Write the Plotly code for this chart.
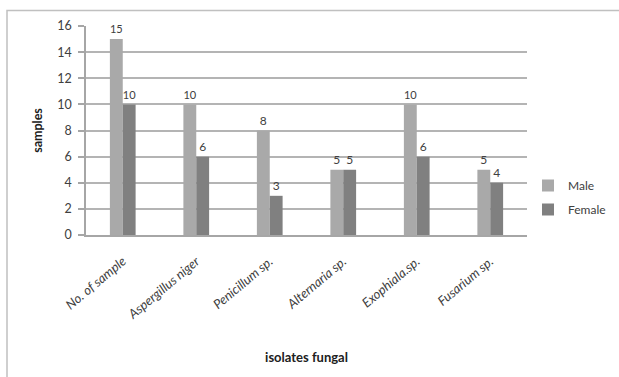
import plotly.graph_objects as go

categories = ["No. of sample", "Aspergillus niger", "Penicillum sp.", "Alternaria sp.", "Exophiala.sp.", "Fusarium sp."]
male = [15, 10, 8, 5, 10, 5]
female = [10, 6, 3, 5, 6, 4]
y_ticks = [0, 2, 4, 6, 8, 10, 12, 14, 16]

FONT = "Lato, Open Sans, sans-serif"
LBL = dict(size=12, color="#404040", family=FONT)

fig = go.Figure()
fig.add_trace(go.Bar(
    x=categories, y=male, name="Male", legendgroup="m",
    marker=dict(color="#a9a9a9", line=dict(width=0)),
    text=[str(v) for v in male], textposition="outside",
    textfont=LBL, outsidetextfont=LBL, cliponaxis=False,
))
fig.add_trace(go.Bar(
    x=categories, y=female, name="Female", legendgroup="f",
    marker=dict(color="#808080", line=dict(width=0)),
    text=[str(v) for v in female], textposition="outside",
    textfont=LBL, outsidetextfont=LBL, cliponaxis=False,
))

L, T, W, H = 86, 26, 441, 209

def px2x(p):
    return (p - L) / W

def py2y(p):
    return 1 - (p - T) / H

fig.update_layout(
    width=619, height=377,
    margin=dict(l=L, r=619 - L - W, t=T, b=377 - T - H, autoexpand=False),
    paper_bgcolor="white", plot_bgcolor="white",
    barmode="group", bargap=0.65, bargroupgap=0,
    font=dict(family=FONT, size=12, color="#404040"),
    showlegend=True,
    legend=dict(
        x=px2x(528), y=py2y(171), xanchor="left", yanchor="top",
        font=dict(size=12, color="#404040", family=FONT),
        traceorder="grouped", tracegroupgap=5,
        itemwidth=30, bgcolor="rgba(0,0,0,0)",
    ),
    xaxis=dict(
        tickangle=-40, showgrid=False,
        tickfont=dict(size=13, family=FONT, color="#404040", style="italic"),
        ticklabelstandoff=12,
        showline=True, linecolor="#a6a6a6", linewidth=1.5,
        ticks="", title=dict(text="<b>isolates fungal</b>", font=dict(size=13, color="#202020", family=FONT), standoff=32),
    ),
    yaxis=dict(
        range=[0, 16], tickvals=y_ticks, ticktext=[str(v) for v in y_ticks],
        showgrid=True, gridcolor="#b4b4b4", gridwidth=1.5,
        showline=True, linecolor="#a6a6a6", linewidth=1.5,
        ticks="outside", ticklen=6, tickcolor="#a6a6a6", tickwidth=1.5,
        tickfont=dict(size=12.5, family=FONT, color="#404040"),
        ticklabelstandoff=4,
        zeroline=False,
        title=dict(text="<b>samples</b>", font=dict(size=12.5, color="#202020", family=FONT), standoff=12),
    ),
    shapes=[
        dict(type="rect", xref="paper", yref="paper",
             x0=px2x(7), x1=px2x(640), y0=py2y(400), y1=py2y(10.5),
             line=dict(color="#c0c0c0", width=1.5), fillcolor="rgba(0,0,0,0)", layer="below"),
    ],
)

fig.write_html("out.html")
